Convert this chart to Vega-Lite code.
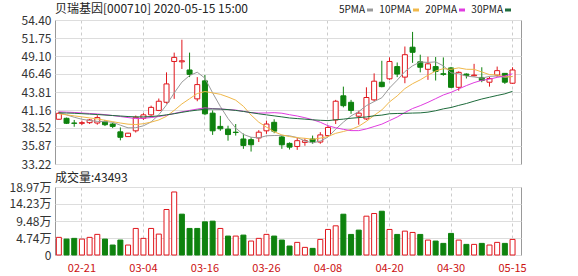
{
  "$schema": "https://vega.github.io/schema/vega-lite/v6.json",
  "background": "white",
  "padding": {"left": 8, "top": 2, "right": 0, "bottom": 0},
  "spacing": 0,
  "config": {
    "font": "Noto Sans CJK SC",
    "view": {"stroke": "#999"},
    "axis": {"labelFont": "Noto Sans CJK SC", "gridColor": "#dddddd", "ticks": false, "domain": false, "title": null, "labelFlush": false, "labelOverlap": false}
  },
  "data": {"values": [
    {"d":"02-18","o":39.80,"h":40.91,"l":39.75,"c":40.68,"v":49200,"ma5":40.80,"ma10":40.60,"ma20":40.90,"ma30":40.75},
    {"d":"02-19","o":39.94,"h":40.05,"l":39.10,"c":39.21,"v":44400,"ma5":40.45,"ma10":40.45,"ma20":40.85,"ma30":40.72},
    {"d":"02-20","o":39.25,"h":39.70,"l":38.70,"c":39.20,"v":46400,"ma5":40.10,"ma10":40.30,"ma20":40.80,"ma30":40.68},
    {"d":"02-21","o":39.20,"h":39.60,"l":38.95,"c":39.30,"v":44400,"ma5":39.80,"ma10":40.15,"ma20":40.72,"ma30":40.62},
    {"d":"02-24","o":39.30,"h":39.85,"l":39.10,"c":39.70,"v":49200,"ma5":39.62,"ma10":40.00,"ma20":40.65,"ma30":40.56},
    {"d":"02-25","o":39.25,"h":40.40,"l":39.00,"c":40.05,"v":57500,"ma5":39.49,"ma10":39.85,"ma20":40.58,"ma30":40.50},
    {"d":"02-26","o":39.45,"h":39.70,"l":38.80,"c":39.00,"v":44400,"ma5":39.45,"ma10":39.65,"ma20":40.48,"ma30":40.42},
    {"d":"02-27","o":39.10,"h":39.30,"l":38.50,"c":38.75,"v":27800,"ma5":39.36,"ma10":39.45,"ma20":40.35,"ma30":40.35},
    {"d":"02-28","o":37.95,"h":38.60,"l":36.70,"c":37.15,"v":41700,"ma5":38.93,"ma10":39.25,"ma20":40.20,"ma30":40.28},
    {"d":"03-02","o":37.25,"h":37.80,"l":37.20,"c":37.75,"v":27800,"ma5":38.54,"ma10":39.08,"ma20":40.05,"ma30":40.20},
    {"d":"03-03","o":38.10,"h":40.35,"l":37.85,"c":40.10,"v":74100,"ma5":38.55,"ma10":39.02,"ma20":39.90,"ma30":40.15},
    {"d":"03-04","o":39.95,"h":40.70,"l":39.70,"c":40.45,"v":46400,"ma5":38.84,"ma10":39.15,"ma20":39.95,"ma30":40.15},
    {"d":"03-05","o":40.45,"h":41.80,"l":40.30,"c":41.55,"v":74100,"ma5":39.40,"ma10":39.38,"ma20":40.05,"ma30":40.20},
    {"d":"03-06","o":41.10,"h":42.85,"l":41.00,"c":42.45,"v":58300,"ma5":40.46,"ma10":39.70,"ma20":40.20,"ma30":40.30},
    {"d":"03-09","o":42.30,"h":46.70,"l":42.10,"c":45.00,"v":126900,"ma5":41.91,"ma10":40.23,"ma20":40.40,"ma30":40.45},
    {"d":"03-10","o":48.30,"h":49.60,"l":42.80,"c":48.90,"v":175800,"ma5":43.67,"ma10":41.11,"ma20":40.65,"ma30":40.62},
    {"d":"03-11","o":48.25,"h":51.50,"l":47.20,"c":48.40,"v":113900,"ma5":45.26,"ma10":42.05,"ma20":40.90,"ma30":40.82},
    {"d":"03-12","o":47.05,"h":49.60,"l":46.00,"c":46.40,"v":74100,"ma5":46.23,"ma10":42.82,"ma20":41.10,"ma30":41.00},
    {"d":"03-13","o":42.80,"h":46.00,"l":42.45,"c":44.90,"v":74100,"ma5":46.72,"ma10":43.59,"ma20":41.30,"ma30":41.15},
    {"d":"03-16","o":45.45,"h":46.30,"l":40.40,"c":40.60,"v":92500,"ma5":45.84,"ma10":43.88,"ma20":41.48,"ma30":41.28},
    {"d":"03-17","o":40.70,"h":41.10,"l":37.50,"c":38.10,"v":94400,"ma5":43.68,"ma10":43.68,"ma20":41.35,"ma30":41.32},
    {"d":"03-18","o":38.75,"h":40.30,"l":38.10,"c":38.40,"v":74100,"ma5":41.68,"ma10":43.47,"ma20":41.31,"ma30":41.30},
    {"d":"03-19","o":38.35,"h":38.85,"l":36.65,"c":37.55,"v":52800,"ma5":39.91,"ma10":43.07,"ma20":41.23,"ma30":41.22},
    {"d":"03-20","o":37.90,"h":39.10,"l":37.40,"c":37.85,"v":52800,"ma5":38.50,"ma10":42.61,"ma20":41.15,"ma30":41.10},
    {"d":"03-23","o":36.90,"h":37.70,"l":35.45,"c":35.95,"v":55500,"ma5":37.57,"ma10":41.71,"ma20":40.97,"ma30":40.95},
    {"d":"03-24","o":36.80,"h":37.15,"l":35.05,"c":36.05,"v":38900,"ma5":37.16,"ma10":40.42,"ma20":40.77,"ma30":40.78},
    {"d":"03-25","o":37.05,"h":38.20,"l":36.45,"c":37.90,"v":46400,"ma5":37.06,"ma10":39.37,"ma20":40.71,"ma30":40.60},
    {"d":"03-26","o":38.10,"h":39.60,"l":37.65,"c":39.10,"v":57500,"ma5":37.37,"ma10":38.64,"ma20":40.73,"ma30":40.45},
    {"d":"03-27","o":39.35,"h":39.80,"l":37.75,"c":38.05,"v":52800,"ma5":37.41,"ma10":37.96,"ma20":40.77,"ma30":40.30},
    {"d":"03-30","o":37.20,"h":37.40,"l":35.45,"c":36.05,"v":41700,"ma5":37.43,"ma10":37.50,"ma20":40.69,"ma30":40.15},
    {"d":"03-31","o":36.25,"h":36.40,"l":35.35,"c":35.70,"v":25000,"ma5":37.36,"ma10":37.26,"ma20":40.47,"ma30":39.99},
    {"d":"04-01","o":35.80,"h":37.05,"l":35.30,"c":36.65,"v":35200,"ma5":37.11,"ma10":37.09,"ma20":40.28,"ma30":39.90},
    {"d":"04-02","o":36.40,"h":37.00,"l":35.90,"c":36.65,"v":21300,"ma5":36.62,"ma10":37.00,"ma20":40.03,"ma30":39.82},
    {"d":"04-03","o":36.90,"h":37.40,"l":36.20,"c":36.50,"v":18500,"ma5":36.31,"ma10":36.86,"ma20":39.74,"ma30":39.72},
    {"d":"04-07","o":36.45,"h":37.90,"l":36.20,"c":37.50,"v":43500,"ma5":36.60,"ma10":37.02,"ma20":39.36,"ma30":39.65},
    {"d":"04-08","o":37.40,"h":38.85,"l":37.25,"c":38.60,"v":71300,"ma5":37.18,"ma10":37.27,"ma20":38.85,"ma30":39.60},
    {"d":"04-09","o":39.70,"h":42.65,"l":39.10,"c":42.45,"v":81400,"ma5":38.34,"ma10":37.73,"ma20":38.55,"ma30":39.72},
    {"d":"04-10","o":43.25,"h":44.60,"l":41.55,"c":41.80,"v":113800,"ma5":39.37,"ma10":38.00,"ma20":38.32,"ma30":39.82},
    {"d":"04-13","o":42.30,"h":42.65,"l":40.60,"c":41.10,"v":57400,"ma5":40.29,"ma10":38.30,"ma20":38.13,"ma30":39.95},
    {"d":"04-14","o":40.25,"h":41.05,"l":39.00,"c":40.70,"v":69400,"ma5":40.93,"ma10":38.77,"ma20":38.13,"ma30":40.05},
    {"d":"04-15","o":39.85,"h":44.50,"l":39.70,"c":43.00,"v":108300,"ma5":41.81,"ma10":39.50,"ma20":38.38,"ma30":40.14},
    {"d":"04-16","o":42.65,"h":46.55,"l":42.45,"c":45.40,"v":115700,"ma5":42.40,"ma10":40.37,"ma20":38.73,"ma30":40.31},
    {"d":"04-17","o":45.25,"h":48.40,"l":44.50,"c":44.60,"v":122100,"ma5":42.96,"ma10":41.17,"ma20":39.08,"ma30":40.41},
    {"d":"04-20","o":45.75,"h":48.90,"l":45.60,"c":48.30,"v":71300,"ma5":44.40,"ma10":42.35,"ma20":39.60,"ma30":40.61},
    {"d":"04-21","o":47.55,"h":48.15,"l":46.00,"c":46.45,"v":57400,"ma5":45.55,"ma10":43.24,"ma20":40.13,"ma30":40.65},
    {"d":"04-22","o":46.00,"h":50.50,"l":45.10,"c":49.30,"v":66600,"ma5":46.81,"ma10":44.31,"ma20":40.79,"ma30":40.67},
    {"d":"04-23","o":50.40,"h":52.65,"l":48.10,"c":49.65,"v":62900,"ma5":47.66,"ma10":45.03,"ma20":41.38,"ma30":40.71},
    {"d":"04-24","o":48.25,"h":49.30,"l":46.70,"c":47.45,"v":57400,"ma5":48.23,"ma10":45.60,"ma20":41.80,"ma30":40.74},
    {"d":"04-27","o":47.15,"h":49.00,"l":45.60,"c":47.95,"v":41600,"ma5":48.16,"ma10":46.28,"ma20":42.29,"ma30":40.85},
    {"d":"04-28","o":47.55,"h":48.95,"l":45.50,"c":46.85,"v":38900,"ma5":48.24,"ma10":46.90,"ma20":42.83,"ma30":41.05},
    {"d":"04-29","o":46.50,"h":48.90,"l":46.20,"c":46.40,"v":32400,"ma5":47.66,"ma10":47.24,"ma20":43.37,"ma30":41.33},
    {"d":"04-30","o":47.35,"h":47.50,"l":44.40,"c":44.50,"v":60200,"ma5":46.63,"ma10":47.15,"ma20":43.76,"ma30":41.53},
    {"d":"05-06","o":44.50,"h":46.85,"l":44.00,"c":46.70,"v":41600,"ma5":46.48,"ma10":47.36,"ma20":44.26,"ma30":41.84},
    {"d":"05-07","o":46.45,"h":46.55,"l":45.80,"c":46.25,"v":29600,"ma5":46.14,"ma10":47.15,"ma20":44.75,"ma30":42.12},
    {"d":"05-08","o":46.20,"h":47.95,"l":46.10,"c":46.30,"v":29600,"ma5":46.03,"ma10":47.14,"ma20":45.19,"ma30":42.46},
    {"d":"05-11","o":45.95,"h":47.45,"l":45.25,"c":45.50,"v":32400,"ma5":45.85,"ma10":46.76,"ma20":45.53,"ma30":42.78},
    {"d":"05-12","o":45.25,"h":46.05,"l":44.60,"c":45.80,"v":27800,"ma5":46.11,"ma10":46.37,"ma20":45.70,"ma30":43.04},
    {"d":"05-13","o":46.30,"h":47.55,"l":46.05,"c":46.95,"v":35200,"ma5":46.16,"ma10":46.32,"ma20":45.96,"ma30":43.30},
    {"d":"05-14","o":46.55,"h":46.60,"l":45.00,"c":45.25,"v":32400,"ma5":45.96,"ma10":46.05,"ma20":46.17,"ma30":43.54},
    {"d":"05-15","o":45.10,"h":47.45,"l":45.00,"c":47.05,"v":43493,"ma5":46.11,"ma10":46.07,"ma20":46.48,"ma30":43.91}
  ]},
  "vconcat": [
    {
      "width": 466,
      "height": 144,
      "title": {"text": "贝瑞基因[000710] 2020-05-15  15:00", "anchor": "start", "frame": "group", "fontSize": 12, "fontWeight": "normal", "color": "#222222", "offset": -2},
      "encoding": {
        "x": {"field": "d", "type": "ordinal", "scale": {"paddingInner": 0, "paddingOuter": 0.3, "align": 0},
              "axis": {"labels": false, "grid": true, "gridDash": [3, 3], "gridColor": "#cccccc", "bandPosition": 0.5,
                       "values": ["02-21","03-04","03-16","03-26","04-08","04-20","04-30","05-15"]}}
      },
      "layer": [
        {
          "mark": {"type": "rule", "strokeWidth": 1},
          "encoding": {
            "y": {"field": "l", "type": "quantitative", "scale": {"domain": [33.22, 54.4], "nice": false, "zero": false},
                  "axis": {"values": [33.22, 35.87, 38.52, 41.16, 43.81, 46.46, 49.10, 51.75, 54.40], "tickCount": 20, "format": ".2f", "labelFontSize": 12, "labelColor": "#333333", "labelPadding": 4}},
            "y2": {"field": "h"},
            "color": {"condition": {"test": "datum.c >= datum.o", "value": "#e0161c"}, "value": "#0e820e"}
          }
        },
        {
          "mark": {"type": "bar", "size": 5, "strokeWidth": 1},
          "encoding": {
            "y": {"field": "o", "type": "quantitative"},
            "y2": {"field": "c"},
            "fill": {"condition": {"test": "datum.c >= datum.o", "value": "#ffffff"}, "value": "#0e820e"},
            "stroke": {"condition": {"test": "datum.c >= datum.o", "value": "#e0161c"}, "value": "#0e820e"}
          }
        },
        {
          "transform": [{"fold": ["ma5", "ma10", "ma20", "ma30"], "as": ["k", "val"]}],
          "mark": {"type": "line", "strokeWidth": 1},
          "encoding": {
            "y": {"field": "val", "type": "quantitative"},
            "color": {"field": "k", "type": "nominal",
                      "scale": {"domain": ["ma5", "ma10", "ma20", "ma30"], "range": ["#9a9a9a", "#f0b84a", "#e03ce0", "#1e6b3c"]},
                      "legend": {"title": null, "orient": "none", "legendX": 310, "legendY": -15, "direction": "horizontal",
                                 "symbolType": "stroke", "symbolStrokeWidth": 3, "symbolSize": 36, "labelFontSize": 10, "labelColor": "#222222",
                                 "labelExpr": "replace(datum.label, 'ma', '') + 'PMA'", "labelAlign": "right", "labelOffset": -10, "columnPadding": 0}}
          }
        }
      ]
    },
    {
      "width": 466,
      "height": 68,
      "title": {"text": "成交量:43493", "anchor": "start", "frame": "group", "fontSize": 12, "fontWeight": "normal", "color": "#222222", "offset": -4},
      "transform": [{"window": [{"op": "lag", "field": "c", "as": "pc"}]}],
      "mark": {"type": "bar", "size": 5, "strokeWidth": 1},
      "encoding": {
        "x": {"field": "d", "type": "ordinal", "scale": {"paddingInner": 0, "paddingOuter": 0.3, "align": 0},
              "axis": {"grid": true, "gridDash": [3, 3], "gridColor": "#cccccc", "bandPosition": 0.5, "labelAngle": 0,
                       "labelColor": "#cc1111", "labelFontSize": 11, "labelPadding": 7,
                       "values": ["02-21","03-04","03-16","03-26","04-08","04-20","04-30","05-15"]}},
        "y": {"field": "v", "type": "quantitative", "scale": {"domain": [0, 189700], "nice": false},
              "axis": {"values": [0, 47400, 94800, 142300, 189700], "tickCount": 10, "labelFontSize": 12, "labelColor": "#333333", "labelPadding": 4,
                       "labelExpr": "datum.value == 0 ? '0' : format(datum.value / 10000, '.2f') + '万'"}},
        "fill": {"condition": {"test": "datum.pc == null || datum.c >= datum.pc", "value": "#ffffff"}, "value": "#0e820e"},
        "stroke": {"condition": {"test": "datum.pc == null || datum.c >= datum.pc", "value": "#e0161c"}, "value": "#0e820e"}
      }
    }
  ]
}
